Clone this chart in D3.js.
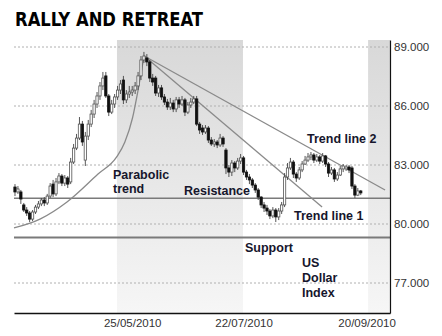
<!DOCTYPE html>
<html><head><meta charset="utf-8">
<script src="https://cdn.jsdelivr.net/npm/d3@7"></script>
<style>
html,body{margin:0;padding:0;background:#fff;}
svg{display:block;}
</style></head>
<body>
<svg id="chart" width="442" height="336"></svg>
<script>
// ---- data (US Dollar Index, daily OHLC) ----
const opens = [81.88,81.63,81.63,80.97,80.71,80.56,80.25,80.61,80.86,81.02,81.22,81.07,81.42,82.03,81.53,82.14,82.44,82.08,82.34,82.14,
83.15,83.86,84.37,85.08,83.25,84.47,85.08,85.59,86.10,86.51,87.02,87.53,86.51,85.69,86.10,86.46,86.81,87.32,86.31,86.61,
86.71,86.81,87.02,87.53,88.34,88.44,88.24,87.42,87.42,86.66,86.92,86.46,86.20,85.95,86.15,85.85,86.31,86.10,86.31,85.69,
86.05,86.20,86.36,85.08,84.88,84.68,84.88,84.27,84.07,84.17,84.02,84.37,83.76,82.85,82.64,83.10,82.85,83.20,83.36,82.64,
82.39,82.24,81.98,81.73,81.37,80.97,80.81,80.66,80.41,80.71,80.36,80.66,80.97,82.39,82.85,83.15,82.54,82.34,82.75,83.05,
83.25,83.41,83.51,83.25,83.41,83.20,83.46,83.05,82.59,82.75,82.29,82.49,82.80,82.80,82.90,82.85,81.93,81.47,81.68];
const highs = [82.03,81.93,81.73,81.07,80.86,80.66,80.71,80.97,81.17,81.32,81.37,81.53,82.08,82.24,82.34,82.59,82.54,82.49,82.44,83.36,
84.07,84.58,85.44,85.24,84.68,85.29,85.80,86.31,86.71,87.22,87.73,87.73,86.61,86.31,86.61,87.02,87.32,87.53,86.81,87.02,
87.02,87.22,87.73,88.54,88.75,88.64,88.34,87.63,87.53,87.07,87.07,86.61,86.36,86.41,86.31,86.46,86.46,86.51,86.41,86.20,
86.41,86.51,86.51,85.19,85.03,85.03,84.98,84.42,84.32,84.27,84.58,84.47,83.86,83.00,83.25,83.20,83.36,83.56,83.46,82.75,
82.54,82.34,82.08,81.83,81.42,81.12,80.97,80.76,80.86,80.81,80.81,81.12,82.59,83.10,83.36,83.25,82.64,82.90,83.20,83.46,
83.61,83.66,83.61,83.56,83.51,83.61,83.51,83.15,82.90,82.85,82.64,82.95,83.05,83.00,83.00,82.95,82.03,81.83,81.73];
const lows = [81.42,81.53,81.02,80.61,80.41,80.10,80.15,80.51,80.76,80.91,80.91,80.97,81.32,81.37,81.42,82.03,81.93,81.93,81.83,82.03,
83.05,83.76,84.27,83.97,82.95,84.27,84.93,85.39,85.90,86.31,86.81,86.41,85.49,85.59,85.90,86.31,86.61,86.10,86.15,86.41,
86.51,86.61,86.81,87.32,88.19,88.03,87.22,87.02,86.51,86.46,86.31,86.05,85.80,85.80,85.69,85.69,85.90,86.00,85.49,85.59,
85.90,86.10,84.98,84.58,84.53,84.58,84.12,83.97,83.92,83.86,83.92,83.92,82.54,82.39,82.44,82.64,82.75,83.05,82.49,82.24,
82.03,81.83,81.58,81.22,80.81,80.61,80.46,80.25,80.30,80.10,80.20,80.51,80.86,82.24,82.75,82.34,82.14,82.24,82.64,83.00,
83.15,83.25,83.10,83.15,83.05,83.10,82.90,82.39,82.49,82.14,82.19,82.44,82.64,82.70,82.59,81.78,81.32,81.42,81.47];
const closes = [81.63,81.78,81.27,80.71,80.56,80.25,80.61,80.86,81.02,81.22,81.07,81.42,81.93,81.53,82.14,82.44,82.08,82.34,82.03,83.15,
83.86,84.37,85.08,84.17,84.47,85.08,85.59,86.10,86.51,87.02,87.42,86.51,85.69,86.10,86.46,86.81,87.12,86.31,86.61,86.71,
86.81,87.02,87.53,88.34,88.54,88.24,87.42,87.22,86.66,86.92,86.46,86.20,85.95,86.15,85.85,86.31,86.10,86.31,85.69,86.05,
86.20,86.36,85.08,84.78,84.68,84.88,84.27,84.07,84.17,84.02,84.37,84.07,82.85,82.64,83.10,82.85,83.20,83.36,82.64,82.39,
82.24,81.98,81.73,81.37,80.97,80.81,80.66,80.41,80.71,80.36,80.66,80.97,82.39,82.85,83.15,82.54,82.34,82.75,83.05,83.25,
83.41,83.51,83.25,83.41,83.20,83.46,83.05,82.59,82.75,82.29,82.49,82.80,82.95,82.90,82.75,81.93,81.47,81.68,81.58];

const yTicks = [77, 80, 83, 86, 89];
const xTickIdx = [40, 78, 120];
const xTickLabels = ["25/05/2010", "22/07/2010", "20/09/2010"];
const bandStart = [34.8, 120.5];
const bandEnd = [77.8, 127.98];
const resistanceLevel = 81.31;
const supportLevel = 79.31;
const parabolaIdx = [-0.34, 8.53, 17.75, 28.33, 34.7, 37.5, 40.1, 42.0, 43.7, 44.0];
const parabolaVal = [79.80, 80.25, 81.12, 82.54, 83.41, 84.17, 85.39, 86.81, 88.24, 88.49];
const trend1Idx = [44.1, 104.8];
const trend1Val = [88.54, 80.86];
const trend2Idx = [44.1, 126.3];
const trend2Val = [88.54, 81.73];

// ---- drawing ----
const svg = d3.select("#chart");
const x = d3.scaleLinear().domain([-0.34, 127.98]).range([14, 390]);
const y = d3.scaleLinear().domain([75.475, 89.356]).range([313, 40]);
const [x0, x1] = x.range();

const defs = svg.append("defs");
const grad = defs.append("linearGradient").attr("id", "bandGrad")
  .attr("x1", 0).attr("y1", 0).attr("x2", 0).attr("y2", 1);
grad.append("stop").attr("offset", "0%").attr("stop-color", "#d8d8d8");
grad.append("stop").attr("offset", "100%").attr("stop-color", "#f6f6f6");

// title
svg.append("text").attr("x", 15).attr("y", 26)
  .attr("font-family", "'DejaVu Sans Condensed', 'DejaVu Sans', sans-serif")
  .attr("font-weight", "bold").attr("font-size", 19.5)
  .attr("textLength", 188).attr("lengthAdjust", "spacingAndGlyphs")
  .attr("fill", "#000").text("RALLY AND RETREAT");

// shaded bands
svg.append("g").selectAll("rect").data(bandStart).join("rect")
  .attr("x", (d) => x(d)).attr("y", y.range()[1])
  .attr("width", (d, i) => x(bandEnd[i]) - x(d))
  .attr("height", y.range()[0] - y.range()[1])
  .attr("fill", "url(#bandGrad)");

// gridlines
svg.append("g").selectAll("line").data(yTicks).join("line")
  .attr("x1", x0).attr("x2", x1)
  .attr("y1", (d) => y(d)).attr("y2", (d) => y(d))
  .attr("stroke", "#b0b0b0").attr("stroke-width", 1).attr("stroke-dasharray", "2,2");

// support / resistance
svg.append("line").attr("x1", x0).attr("x2", x1)
  .attr("y1", y(resistanceLevel)).attr("y2", y(resistanceLevel))
  .attr("stroke", "#7a7a7a").attr("stroke-width", 1.4);
svg.append("line").attr("x1", x0).attr("x2", x1)
  .attr("y1", y(supportLevel)).attr("y2", y(supportLevel))
  .attr("stroke", "#7a7a7a").attr("stroke-width", 2);

// trend lines & parabola
const lineGen = d3.line().x((d) => x(d[0])).y((d) => y(d[1]));
const t1 = trend1Idx.map((d, i) => [d, trend1Val[i]]);
const t2 = trend2Idx.map((d, i) => [d, trend2Val[i]]);
[t1, t2].forEach((pts) => {
  svg.append("path").attr("d", lineGen(pts)).attr("fill", "none")
    .attr("stroke", "#8a8a8a").attr("stroke-width", 1.3);
});
const para = parabolaIdx.map((d, i) => [d, parabolaVal[i]]);
svg.append("path").attr("d", lineGen.curve(d3.curveMonotoneX)(para))
  .attr("fill", "none").attr("stroke", "#8a8a8a").attr("stroke-width", 1.3);

// candles
const candles = closes.map((c, i) => ({ i, o: opens[i], h: highs[i], l: lows[i], c }));
const cg = svg.append("g");
const bw = 2.3;
cg.selectAll("line").data(candles).join("line")
  .attr("x1", (d) => x(d.i)).attr("x2", (d) => x(d.i))
  .attr("y1", (d) => y(d.h)).attr("y2", (d) => y(d.l))
  .attr("stroke", "#444").attr("stroke-width", 0.9);
cg.selectAll("rect").data(candles).join("rect")
  .attr("x", (d) => x(d.i) - bw / 2)
  .attr("y", (d) => y(Math.max(d.o, d.c)))
  .attr("width", bw)
  .attr("height", (d) => Math.max(1, Math.abs(y(d.o) - y(d.c))))
  .attr("fill", (d) => d.c >= d.o ? "#fff" : "#111")
  .attr("stroke", (d) => d.c >= d.o ? "#555" : "#111")
  .attr("stroke-width", 0.8);

// axes
const yAxis = svg.append("g").attr("transform", `translate(${x1},0)`)
  .call(d3.axisRight(y).tickValues(yTicks).tickFormat(d3.format(".3f")).tickSize(0).tickSizeOuter(0).tickPadding(4));
yAxis.select(".domain").attr("stroke", "#111").attr("stroke-width", 1.2);
yAxis.selectAll("text").attr("font-family", "Arial, 'Liberation Sans', sans-serif")
  .attr("font-size", 11.5).attr("fill", "#333");

const xAxis = svg.append("g").attr("transform", `translate(0,${y.range()[0]})`)
  .call(d3.axisBottom(x).tickValues(xTickIdx).tickFormat((d, i) => xTickLabels[i]).tickSize(0).tickSizeOuter(0).tickPadding(5.5));
xAxis.select(".domain").attr("stroke", "#111").attr("stroke-width", 1.5);
xAxis.selectAll("text").attr("font-family", "Arial, 'Liberation Sans', sans-serif")
  .attr("font-size", 11.5).attr("fill", "#333");

// annotations
const annFont = "Arial, 'Liberation Sans', sans-serif";
const ann = [
  { t: "Parabolic", x: 113, y: 179 },
  { t: "trend", x: 113, y: 193 },
  { t: "Resistance", x: 184, y: 195 },
  { t: "Trend line 1", x: 294, y: 220 },
  { t: "Trend line 2", x: 307, y: 143 },
  { t: "Support", x: 245, y: 252 },
  { t: "US", x: 302, y: 267 },
  { t: "Dollar", x: 302, y: 282 },
  { t: "Index", x: 302, y: 297 }
];
svg.append("g").selectAll("text").data(ann).join("text")
  .attr("x", (d) => d.x).attr("y", (d) => d.y)
  .attr("font-family", annFont).attr("font-weight", "bold").attr("font-size", 12.5)
  .attr("fill", "#16162c").text((d) => d.t);
</script>
</body></html>
